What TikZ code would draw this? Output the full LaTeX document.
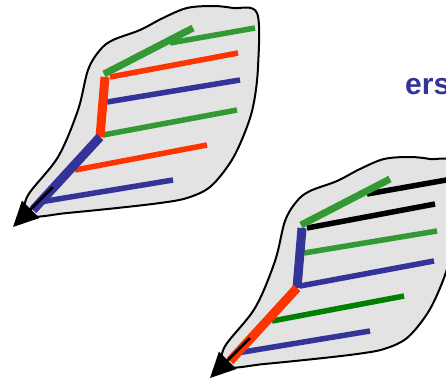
\documentclass[tikz,border=0pt]{standalone}
\usepackage{fontspec}
\setsansfont{Liberation Sans}
\usepackage{tikz}
\usetikzlibrary{arrows.meta}

\definecolor{rouge}{HTML}{FF3300}
\definecolor{bleu}{HTML}{333399}
\definecolor{vert}{HTML}{339933}
\definecolor{vertfonce}{HTML}{008000}
\definecolor{fond}{HTML}{E3E3E3}

\begin{document}
\begin{tikzpicture}[
  x=1pt, y=-1pt,
  contour/.style={
    draw=black,
    fill=fond,
    line width=2pt
  },
  branche/.style={line width=5.5pt},
  tige/.style={line width=9pt},
  fleche/.style={
    -{Triangle[length=25pt, width=24pt]},
    line width=2.5pt,
    draw=black
  },
  titre/.style={
    font=\sffamily\bfseries\fontsize{30}{30}\selectfont,
    text=bleu,
    anchor=base west,
    inner sep=0pt
  }
]
\tikzset{
  % #1 tige basse, #2 tige haute, #3 branche du haut, #4 branche fine,
  % #5..#9 branches laterales de haut en bas
  pics/feuille/.style n args={9}{
    code={
      \draw[contour] plot[smooth cycle, tension=0.55] coordinates {
        (27,197) (58,157) (78,110) (88,70) (100,50) (113,40) (140,30)
        (163,18) (187,8) (213,6) (233,8) (257,13) (258,67) (253,107)
        (243,137) (230,163) (210,187) (187,198) (160,203) (117,208)
        (67,213) (30,216)};
      \coordinate (-pointe) at (13,227);
      \coordinate (-base) at (33,210);
      \coordinate (-noeud) at (100,137);
      \coordinate (-haut) at (105,77);
      \coordinate (-fourche) at (170,43);
      % branches laterales
      \draw[branche, draw=#9] (40,202) -- (173,180);
      \draw[branche, draw=#8] (75,170) -- (207,145);
      \draw[branche, draw=#7] (103,135) -- (237,110);
      \draw[branche, draw=#6] (107,102) -- (240,80);
      \draw[branche, draw=#5] (110,77) -- (238,53);
      \draw[branche, draw=#4] (-fourche) -- (255,28);
      \draw[branche, line width=7pt, draw=#3] (104,74) -- (193,28);
      % tiges
      \draw[tige, draw=#2] (-noeud) -- (-haut);
      \draw[tige, draw=#1] (-base) -- (-noeud);
      \draw[fleche] (53,187) -- (-pointe);
    }
  }
}
\useasboundingbox (0,0) rectangle (446,380);

% Feuilles
\pic (f1) at (0,0) {feuille={bleu}{rouge}{vert}{vert}{rouge}{bleu}{vert}{rouge}{bleu}};
\pic (f2) at (197,151) {feuille={rouge}{bleu}{vert}{black}{black}{vert}{bleu}{vertfonce}{bleu}};

% Texte
\node[titre] (mot) at (405,94) {ers};

\end{tikzpicture}
\end{document}
